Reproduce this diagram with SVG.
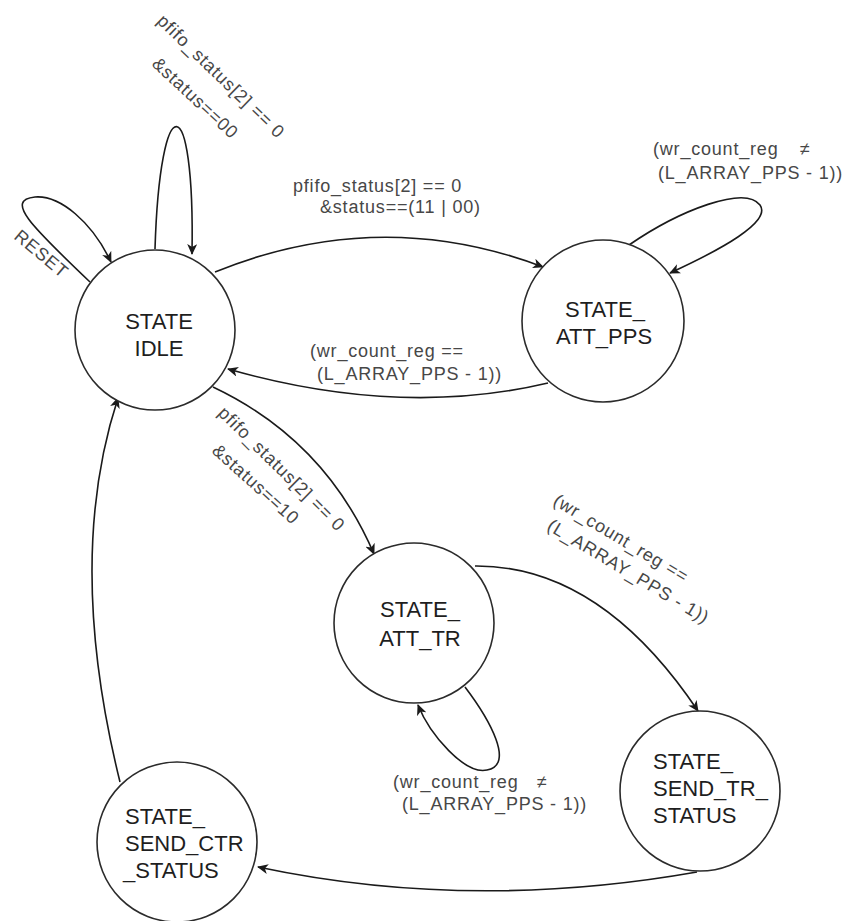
<svg xmlns="http://www.w3.org/2000/svg" width="851" height="921" viewBox="0 0 851 921">
  <style>
    .state { fill: #ffffff; stroke: #2b2b2b; stroke-width: 1.6; }
    .name { font-family: "Liberation Sans", Arial, sans-serif; font-size: 22px; fill: #1e1e1e; }
    .mid { text-anchor: middle; }
    .edge { fill: none; stroke: #1a1a1a; stroke-width: 1.6; marker-end: url(#arrow); }
    .cond { font-family: "Liberation Sans", Arial, sans-serif; font-size: 18px; fill: #474747; letter-spacing: 0.8px; }
  </style>
  <defs>
    <marker id="arrow" viewBox="0 0 11 10" refX="10" refY="5" markerWidth="11" markerHeight="10" markerUnits="userSpaceOnUse" orient="auto">
      <path d="M0,0 L11,5 L0,10 L3,5 Z" fill="#1a1a1a"/>
    </marker>
  </defs>

  <rect width="851" height="921" fill="#ffffff"/>

  <!-- transitions -->
  <g id="connectors">
    <!-- IDLE self loop (top) -->
    <path class="edge" d="M155,249 C160,85 195,85 192,254"/>
    <!-- RESET loop -->
    <path class="edge" d="M90,282 C30,225 5,200 35,197 C60,195 92,222 111,262"/>
    <!-- IDLE -> ATT_PPS -->
    <path class="edge" d="M215,272 Q380,205 543,267"/>
    <!-- ATT_PPS -> IDLE -->
    <path class="edge" d="M548,383 Q400,418 228,369"/>
    <!-- ATT_PPS self loop -->
    <path class="edge" d="M629,245 C680,210 745,185 760,205 C772,222 720,250 670,273"/>
    <!-- IDLE -> ATT_TR -->
    <path class="edge" d="M213,387 Q325,440 374,554"/>
    <!-- ATT_TR self loop -->
    <path class="edge" d="M465,687 C490,720 515,765 487,770 C465,775 430,735 418,705"/>
    <!-- ATT_TR -> SEND_TR_STATUS -->
    <path class="edge" d="M475,566 Q600,565 698,711"/>
    <!-- SEND_TR_STATUS -> SEND_CTR_STATUS -->
    <path class="edge" d="M697,872 Q470,912 258,867"/>
    <!-- SEND_CTR_STATUS -> IDLE -->
    <path class="edge" d="M120,782 Q65,560 118,398"/>
  </g>

  <!-- transition conditions -->
  <g id="labels">
    <text class="cond" transform="translate(13,238) rotate(40)">RESET</text>
    <text class="cond" transform="translate(156,22) rotate(44)">pfifo_status[2] == 0</text>
    <text class="cond" transform="translate(151,65) rotate(43)">&amp;status==00</text>
    <text class="cond" x="293" y="192">pfifo_status[2] == 0</text>
    <text class="cond" x="320" y="213">&amp;status==(11 | 00)</text>
    <text class="cond" x="653" y="155">(wr_count_reg<tspan x="800">≠</tspan></text>
    <text class="cond" x="658" y="179">(L_ARRAY_PPS - 1))</text>
    <text class="cond" x="310" y="357">(wr_count_reg ==</text>
    <text class="cond" x="317" y="380">(L_ARRAY_PPS - 1))</text>
    <text class="cond" transform="translate(217,414) rotate(44.5)">pfifo_status[2] == 0</text>
    <text class="cond" transform="translate(211,452) rotate(42)">&amp;status==10</text>
    <text class="cond" transform="translate(552,504) rotate(31)">(wr_count_reg ==</text>
    <text class="cond" transform="translate(546,529) rotate(31)">(L_ARRAY_PPS - 1))</text>
    <text class="cond" x="393" y="788">(wr_count_reg<tspan x="537">≠</tspan></text>
    <text class="cond" x="402" y="810">(L_ARRAY_PPS - 1))</text>
  </g>

  <!-- states -->
  <g id="state-idle">
    <circle class="state" cx="155" cy="330" r="80"/>
    <text class="name mid" x="159" y="329">STATE</text>
    <text class="name mid" x="159" y="356">IDLE</text>
  </g>
  <g id="state-att-pps">
    <circle class="state" cx="603" cy="321" r="81"/>
    <text class="name mid" x="605" y="317">STATE_</text>
    <text class="name mid" x="604" y="344">ATT_PPS</text>
  </g>
  <g id="state-att-tr">
    <circle class="state" cx="414" cy="623" r="80"/>
    <text class="name mid" x="420" y="617">STATE_</text>
    <text class="name mid" x="420" y="646">ATT_TR</text>
  </g>
  <g id="state-send-tr-status">
    <circle class="state" cx="700" cy="791" r="80"/>
    <text class="name" x="653" y="769">STATE_</text>
    <text class="name" x="653" y="796">SEND_TR_</text>
    <text class="name" x="653" y="823">STATUS</text>
  </g>
  <g id="state-send-ctr-status">
    <circle class="state" cx="177" cy="842" r="80"/>
    <text class="name" x="125" y="824">STATE_</text>
    <text class="name" x="125" y="851">SEND_CTR</text>
    <text class="name" x="123" y="878">_STATUS</text>
  </g>
</svg>
